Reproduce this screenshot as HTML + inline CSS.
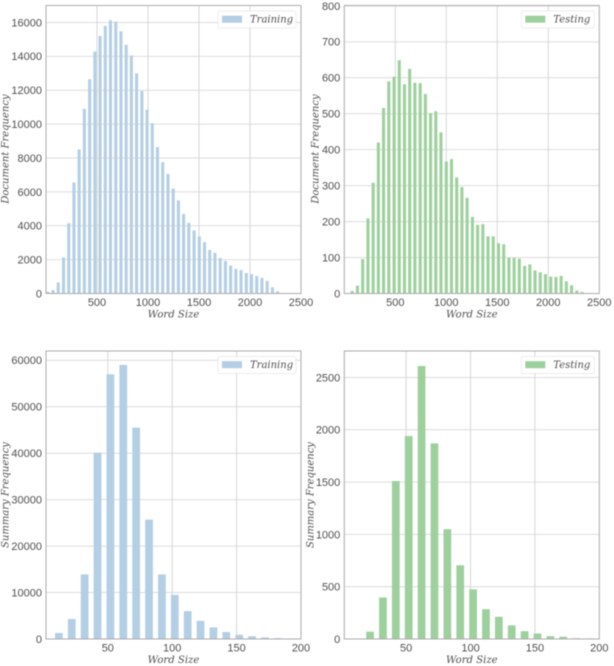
<!DOCTYPE html>
<html lang="en">
<head>
<meta charset="utf-8">
<title>Word size frequency histograms</title>
<style>
html,body{margin:0;padding:0;background:#fff;width:614px;height:666px;overflow:hidden}
svg{display:block;filter:blur(0.5px)}
.tick{font-family:"Liberation Sans",sans-serif;font-size:11px;fill:#4f4f4f}
.x-title{font-family:"DejaVu Serif","Liberation Serif",serif;font-style:italic;font-size:10.1px;fill:#4f4f4f}
.y-title{font-family:"DejaVu Serif","Liberation Serif",serif;font-style:italic;font-size:10px;fill:#4f4f4f}
.legend-text{font-family:"DejaVu Serif","Liberation Serif",serif;font-style:italic;font-size:10px;fill:#4f4f4f}
</style>
</head>
<body>
<svg id="chart" width="614" height="666" viewBox="0 0 614 666" xmlns="http://www.w3.org/2000/svg"></svg>
<script>
const docTrainSizes = [18,69,120,172,223,274,325,376,428,479,530,581,632,684,735,786,837,888,940,991,1042,1093,1144,1196,1247,1298,1349,1400,1452,1503,1554,1605,1656,1708,1759,1810,1861,1912,1964,2015,2066,2117,2168,2220,2271,2322];
const docTrainCounts = [100,200,650,2130,4150,6550,8500,10900,12650,14280,15200,15800,16130,16050,15480,14680,14050,13000,11950,10850,10050,8650,7750,7050,6200,5500,4700,4170,3720,3370,3030,2570,2400,2100,1920,1650,1450,1380,1210,1140,1030,920,750,370,130,30];
const docTestSizes = [78,129,180,232,283,334,385,436,488,539,590,641,692,744,795,846,897,948,1000,1051,1102,1153,1204,1256,1307,1358,1409,1460,1512,1563,1614,1665,1716,1768,1819,1870,1921,1972,2024,2075,2126,2177,2228,2280,2331];
const docTestCounts = [7,22,96,209,308,420,516,590,603,649,582,625,586,585,555,502,507,448,367,374,323,296,266,213,191,193,159,159,140,137,99,99,97,77,81,64,59,54,47,46,49,34,23,8,4];
const sumTrainSizes = [12,22,32,42,52,62,72,82,92,102,112,122,132,142,152,162,172,182,192];
const sumTrainCounts = [1300,4300,13900,40100,57000,59000,45500,25700,13900,9500,6000,3900,2500,1500,900,600,350,200,120];
const sumTestSizes = [22,32,42,52,62,72,82,92,102,112,122,132,142,152,162,172,182,192];
const sumTestCounts = [70,397,1510,1940,2610,1870,1050,705,475,285,212,130,75,52,27,22,8,6];
const docXTicks = [500,1000,1500,2000,2500];
const sumXTicks = [50,100,150,200];
const docTrainYTicks = [0,2000,4000,6000,8000,10000,12000,14000,16000];
const docTestYTicks = [0,100,200,300,400,500,600,700,800];
const sumTrainYTicks = [0,10000,20000,30000,40000,50000,60000];
const sumTestYTicks = [0,500,1000,1500,2000,2500];

const NS = 'http://www.w3.org/2000/svg';
const root = document.getElementById('chart');

function make(tag, attrs, parent, text) {
  const el = document.createElementNS(NS, tag);
  for (const k in attrs) el.setAttribute(k, attrs[k]);
  if (text !== undefined) el.textContent = text;
  parent.appendChild(el);
  return el;
}

function drawPanel(p) {
  const g = make('g', {}, root);
  
  

  const xAxis = v => p.left + (v - p.xMin) / (p.xMax - p.xMin) * (p.right - p.left);
  const yAxis = v => p.bottom - v / p.yMax * (p.bottom - p.top);

  // gridlines and y ticks
  p.yTicks.forEach(v => {
    const y = yAxis(v);
    if (v > 0) {
      const line = make('line', {x1: p.left, x2: p.right, y1: y, y2: y, stroke: '#dcdcdc', 'stroke-width': 1}, g);
      
      
    }
    const t = make('text', {x: p.left - 4, y: y + 3.9, 'text-anchor': 'end', class: 'tick'}, g, String(v));
    
    
  });

  // gridlines and x ticks
  p.xTicks.forEach(v => {
    const x = xAxis(v);
    if (v < p.xMax) {
      const line = make('line', {x1: x, x2: x, y1: p.top, y2: p.bottom, stroke: '#d6d6d6', 'stroke-width': 1}, g);
      
      
    }
    const t = make('text', {x: x, y: p.bottom + 12.6, 'text-anchor': 'middle', class: 'tick'}, g, String(v));
    
    
  });

  // bars
  p.sizes.forEach((s, i) => {
    const x0 = xAxis(s - p.barWidth / 2);
    const x1 = xAxis(s + p.barWidth / 2);
    const y = yAxis(p.counts[i]);
    const bar = make('rect', {x: x0, y: y, width: x1 - x0, height: p.bottom - y, fill: p.color}, g);
    
    
  });

  // frame
  const frame = make('rect', {x: p.left, y: p.top, width: p.right - p.left, height: p.bottom - p.top, fill: 'none', stroke: '#ababab', 'stroke-width': 1}, g);
  
  

  // axis titles
  const xt = make('text', {x: (p.left + p.right) / 2, y: p.bottom + p.xTitleGap, 'text-anchor': 'middle', class: 'x-title'}, g, 'Word Size');
  
  
  const yMid = p.yTitleY;
  const yt = make('text', {x: p.yTitleX, y: yMid, 'text-anchor': 'middle', class: 'y-title', transform: 'rotate(-90 ' + p.yTitleX + ' ' + yMid + ')'}, g, p.yTitle);
  
  

  // legend
  const lg = make('g', {}, g);
  
  
  const lx = p.right - p.legendWidth - 5;
  const ly = p.top + 5.5;
  make('rect', {x: lx, y: ly, width: p.legendWidth, height: 17, rx: 2, fill: '#fff', 'fill-opacity': 0.85, stroke: '#e8e8e8', 'stroke-width': 0.8}, lg);
  const sw = make('rect', {x: lx + 4, y: ly + 4.7, width: 20, height: 7, fill: p.color}, lg);
  
  
  const lt = make('text', {x: lx + 32, y: ly + 11.4, class: 'legend-text'}, lg, p.legend);
  
  
}

drawPanel({name:'document-training-panel', left:46, right:301, top:5.5, bottom:293.5, xMin:0, xMax:2500, yMax:17000,
  sizes:docTrainSizes, counts:docTrainCounts, barWidth:30, xTicks:docXTicks, yTicks:docTrainYTicks,
  color:'#b4cee4', legend:'Training', legendWidth:78, yTitle:'Document Frequency', yTitleX:8.5, yTitleY:149, xTitleGap:24});
drawPanel({name:'document-testing-panel', left:344.3, right:599.3, top:5.5, bottom:293.5, xMin:0, xMax:2500, yMax:801,
  sizes:docTestSizes, counts:docTestCounts, barWidth:30, xTicks:docXTicks, yTicks:docTestYTicks,
  color:'#9dd09d', legend:'Testing', legendWidth:73, yTitle:'Document Frequency', yTitleX:318.5, yTitleY:149, xTitleGap:24});
drawPanel({name:'summary-training-panel', left:46, right:301, top:351, bottom:639, xMin:2, xMax:200, yMax:62000,
  sizes:sumTrainSizes, counts:sumTrainCounts, barWidth:6, xTicks:sumXTicks, yTicks:sumTrainYTicks,
  color:'#b4cee4', legend:'Training', legendWidth:78, yTitle:'Summary Frequency', yTitleX:8.5, yTitleY:495, xTitleGap:24});
drawPanel({name:'summary-testing-panel', left:344.3, right:599.3, top:351, bottom:639, xMin:2, xMax:200, yMax:2753,
  sizes:sumTestSizes, counts:sumTestCounts, barWidth:6, xTicks:sumXTicks, yTicks:sumTestYTicks,
  color:'#9dd09d', legend:'Testing', legendWidth:73, yTitle:'Summary Frequency', yTitleX:313.5, yTitleY:495, xTitleGap:24});
</script>
</body>
</html>
